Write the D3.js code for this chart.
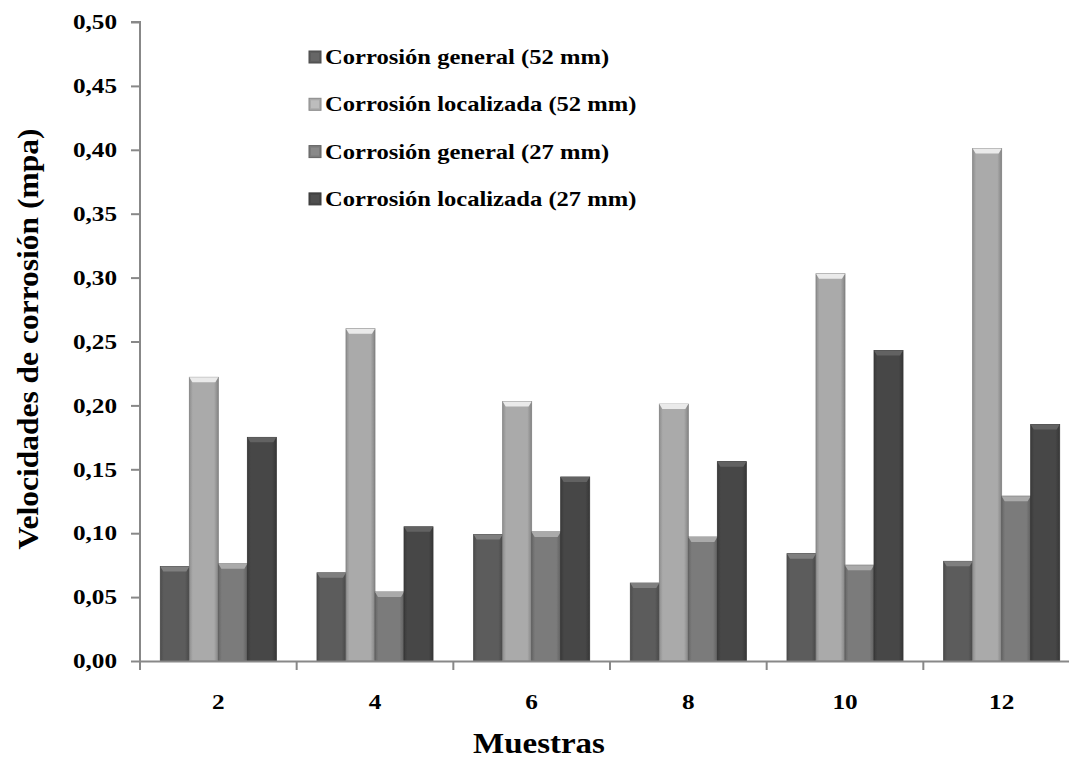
<!DOCTYPE html>
<html>
<head>
<meta charset="utf-8">
<script src="https://cdn.jsdelivr.net/npm/d3@7"></script>
<style>
  body { margin: 0; background: #fff; }
  text { font-family: "Liberation Serif", "Times New Roman", serif; font-weight: bold; fill: #000; }
</style>
</head>
<body>
<svg id="chart" width="1069" height="761"></svg>
<script>
// data
var muestras = ["2", "4", "6", "8", "10", "12"];
var series = ["Corrosión general (52 mm)", "Corrosión localizada (52 mm)",
              "Corrosión general (27 mm)", "Corrosión localizada (27 mm)"];
var general52   = [0.074, 0.069, 0.099, 0.061, 0.084, 0.078];
var local52     = [0.222, 0.260, 0.203, 0.201, 0.303, 0.401];
var general27   = [0.076, 0.054, 0.101, 0.097, 0.075, 0.129];
var local27     = [0.175, 0.105, 0.144, 0.156, 0.243, 0.185];
var yTicks = [0, 0.05, 0.10, 0.15, 0.20, 0.25, 0.30, 0.35, 0.40, 0.45, 0.50];
var barColors = ["#5c5c5c", "#aaaaaa", "#7b7b7b", "#474747"];

var allSeries = [general52, local52, general27, local27];

var svg = d3.select("#chart");
var mLeft = 140, mRight = 1080, mTop = 22, mBottom = 661;

var x = d3.scaleBand().domain(muestras).range([mLeft, mRight]);
var xInner = d3.scaleBand().domain(d3.range(series.length))
    .range([0, x.bandwidth()]).paddingOuter(0.7);
var y = d3.scaleLinear().domain([0, 0.5]).range([mBottom, mTop]);

// the original font is a wide-set Times, so stretch text a little
function stretch(sel, k) {
  sel.each(function() {
    var w = this.getComputedTextLength();
    d3.select(this).attr("textLength", w * k).attr("lengthAdjust", "spacingAndGlyphs");
  });
}

// gradients to fake the bevelled look
var defs = svg.append("defs");
barColors.forEach(function(c, i) {
  var g = defs.append("linearGradient").attr("id", "g" + i)
    .attr("x1", 0).attr("x2", 1).attr("y1", 0).attr("y2", 0);
  g.append("stop").attr("offset", "0%").attr("stop-color", d3.color(c).darker(0.5));
  g.append("stop").attr("offset", "12%").attr("stop-color", c);
  g.append("stop").attr("offset", "85%").attr("stop-color", c);
  g.append("stop").attr("offset", "100%").attr("stop-color", d3.color(c).darker(0.7));
});

// y axis
var yAxis = svg.append("g").attr("transform", "translate(" + mLeft + ",0)")
  .call(d3.axisLeft(y).tickValues(yTicks).tickSize(9).tickPadding(14)
    .tickFormat(function(d) { return d3.format(".2f")(d).replace(".", ","); }));
yAxis.selectAll("path,line").attr("stroke", "#888").attr("stroke-width", 2);
yAxis.select(".domain").attr("d", "M-9," + mTop + "H0V" + mBottom);
yAxis.selectAll("text").style("font-size", "21px").call(stretch, 1.2);

// bars
var groups = svg.append("g").selectAll("g").data(muestras).enter().append("g")
  .attr("transform", function(d) { return "translate(" + x(d) + ",0)"; });

groups.each(function(m, mi) {
  var gg = d3.select(this);
  allSeries.forEach(function(vals, si) {
    var v = vals[mi];
    var bx = xInner(si), bw = xInner.bandwidth(), by = y(v), bh = mBottom - y(v);
    gg.append("rect").attr("x", bx).attr("y", by).attr("width", bw).attr("height", bh)
      .attr("fill", "url(#g" + si + ")").attr("stroke", d3.color(barColors[si]).darker(0.8))
      .attr("stroke-width", 0.8);
    // top bevel
    gg.append("path")
      .attr("d", "M" + bx + "," + by + "h" + bw + "l-3,5h" + (-(bw - 6)) + "z")
      .attr("fill", d3.color(barColors[si]).brighter(0.9));
  });
});

// x axis
var xAxis = svg.append("g").attr("transform", "translate(0," + mBottom + ")")
  .call(d3.axisBottom(x).tickSize(0).tickPadding(33));
xAxis.select(".domain").attr("stroke", "#888").attr("stroke-width", 2);
xAxis.selectAll("text").style("font-size", "21px").call(stretch, 1.2);
svg.append("g").selectAll("line").data(muestras.concat([""])).enter().append("line")
  .attr("x1", function(d, i) { return mLeft + i * x.step(); })
  .attr("x2", function(d, i) { return mLeft + i * x.step(); })
  .attr("y1", mBottom).attr("y2", mBottom + 9)
  .attr("stroke", "#888").attr("stroke-width", 2);

// axis titles
svg.append("text").attr("transform", "translate(38,339) rotate(-90)")
  .attr("text-anchor", "middle").style("font-size", "30px")
  .text("Velocidades de corrosión (mpa)").call(stretch, 1.05);
svg.append("text").attr("x", 539).attr("y", 753)
  .attr("text-anchor", "middle").style("font-size", "30px").text("Muestras")
  .call(stretch, 1.1);

// legend
var legend = svg.append("g").selectAll("g").data(series).enter().append("g")
  .attr("transform", function(d, i) { return "translate(309," + (57 + i * 47.3) + ")"; });
legend.append("rect").attr("x", 0).attr("y", -6).attr("width", 12).attr("height", 12)
  .attr("fill", function(d, i) { return barColors[i]; })
  .attr("stroke", function(d, i) { return d3.color(barColors[i]).darker(0.6); });
legend.append("rect").attr("x", 2).attr("y", -4).attr("width", 8).attr("height", 8)
  .attr("fill", function(d, i) { return d3.color(barColors[i]).brighter(0.3); });
legend.append("text").attr("x", 16).attr("y", 7).style("font-size", "21px")
  .text(function(d) { return d; }).call(stretch, 1.17);
</script>
</body>
</html>
